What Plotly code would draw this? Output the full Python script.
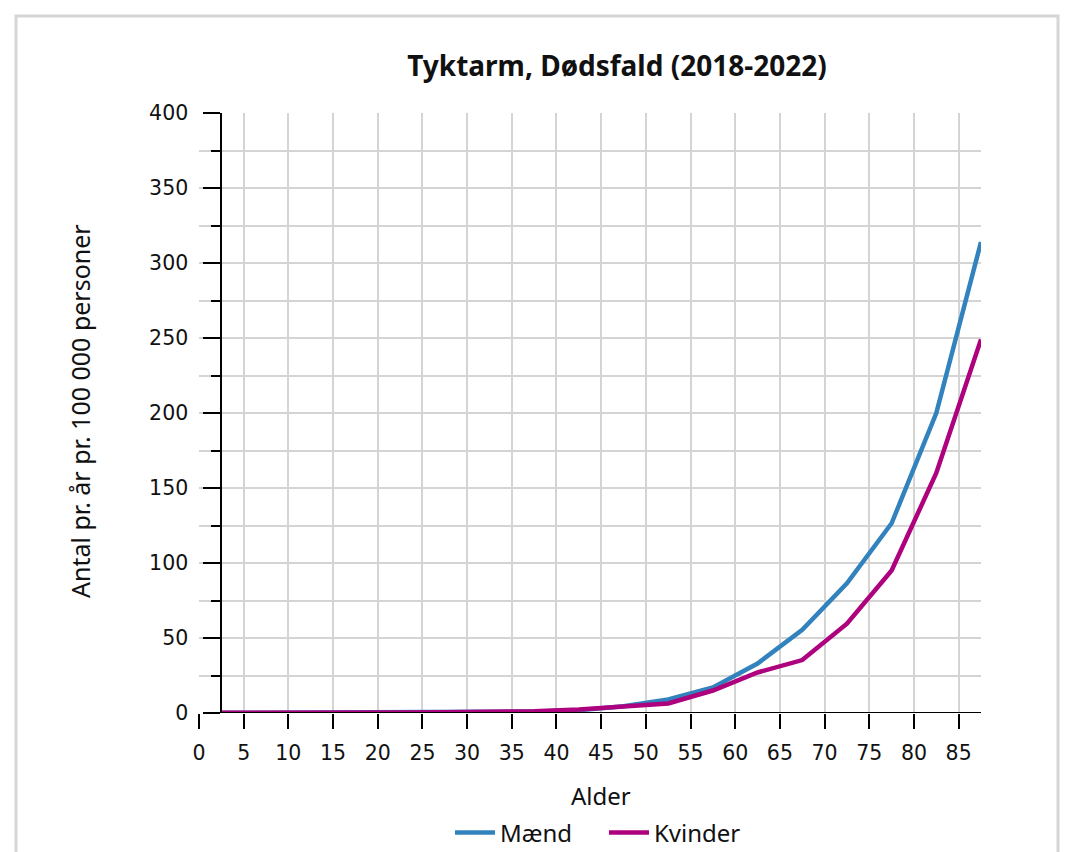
import plotly.graph_objects as go

alder = [2.5, 7.5, 12.5, 17.5, 22.5, 27.5, 32.5, 37.5, 42.5, 47.5,
         52.5, 57.5, 62.5, 67.5, 72.5, 77.5, 82.5, 87.5]
maend = [0.1, 0.1, 0.1, 0.2, 0.2, 0.4, 0.8, 1.0, 1.8, 4.5,
         9.0, 17.0, 33.0, 55.5, 86.5, 126.5, 200.0, 314.0]
kvinder = [0.2, 0.1, 0.1, 0.2, 0.3, 0.5, 0.9, 1.2, 2.4, 4.3,
           6.4, 15.0, 27.0, 35.3, 59.5, 95.0, 160.0, 249.0]
x_ticks = list(range(0, 90, 5))
y_ticks = list(range(0, 401, 50))

title_text = "Tyktarm, Dødsfald (2018-2022)"
x_title = "Alder"
y_title = "Antal pr. år pr. 100 000 personer"

W, H = 1069, 852
L, R, T, B = 199, 981, 113, 713

def px(p):
    return (p - L) / (R - L)

def py(p):
    return (B - p) / (B - T)

xmin, xmax = 0, 87.5
ypos = (alder[0] - xmin) / (xmax - xmin)

fig = go.Figure()
fig.add_trace(go.Scatter(x=alder, y=maend, mode="lines", name="Mænd",
                         line=dict(color="#3182bd", width=4.5)))
fig.add_trace(go.Scatter(x=alder, y=kvinder, mode="lines", name="Kvinder",
                         line=dict(color="#ae017e", width=4.5)))

grid = "#d4d4d4"
tickfont = dict(family="DejaVu Sans", size=20.5, color="#111")
fig.update_layout(
    width=W, height=H,
    margin=dict(l=L, r=W - R, t=T, b=H - B, autoexpand=False),
    paper_bgcolor="white", plot_bgcolor="white",
    showlegend=True,
    legend=dict(orientation="h", x=px(450), xanchor="left",
                y=py(833), yanchor="middle",
                font=dict(family="Noto Sans", size=24, color="#111"),
                itemwidth=40, tracegroupgap=0,
                entrywidth=99, entrywidthmode="pixels"),
    xaxis=dict(range=[xmin, xmax], tickvals=x_ticks, ticks="outside",
               ticklen=15, tickwidth=2, tickcolor="black",
               showgrid=True, gridcolor=grid, gridwidth=2,
               showline=False, zeroline=False, tickfont=tickfont,
               ticklabelstandoff=6, automargin=False),
    yaxis=dict(range=[0, 400], tickvals=y_ticks, ticks="outside",
               ticklen=17, tickwidth=2, tickcolor="black",
               showgrid=True, gridcolor=grid, gridwidth=2,
               showline=True, linecolor="black", linewidth=2,
               anchor="free", position=ypos, zeroline=False,
               tickfont=tickfont, ticklabelstandoff=11, automargin=False,
               minor=dict(dtick=25, ticks="outside", ticklen=9,
                          tickwidth=2, tickcolor="black",
                          showgrid=True, gridcolor=grid, gridwidth=2)),
    title=dict(text="<b>" + title_text + "</b>", x=px(617), xref="paper",
               xanchor="center", y=1 - 66 / H, yanchor="middle",
               font=dict(family="Noto Sans", size=28, color="#111")),
    annotations=[
        dict(text=x_title, xref="paper", yref="paper", x=px(601), y=py(795),
             xanchor="center", yanchor="middle", showarrow=False,
             font=dict(family="Noto Sans", size=24, color="#111")),
        dict(text=y_title, xref="paper", yref="paper", x=px(80), y=py(411),
             xanchor="center", yanchor="middle", showarrow=False,
             textangle=-90,
             font=dict(family="Noto Sans", size=25, color="#111")),
    ],
    shapes=[
        dict(type="line", xref="x domain", yref="y", x0=ypos, x1=1, y0=0, y1=0,
             line=dict(color="black", width=2), layer="above"),
        dict(type="rect", xref="paper", yref="paper",
             x0=px(16), x1=px(1058), y0=py(870), y1=py(16),
             line=dict(color="#d6d6d6", width=3), layer="below"),
    ],
)

fig.write_html("out.html", config={"displayModeBar": False},
               post_script="document.body.style.margin='0';"
                           "document.body.style.overflow='hidden';")
